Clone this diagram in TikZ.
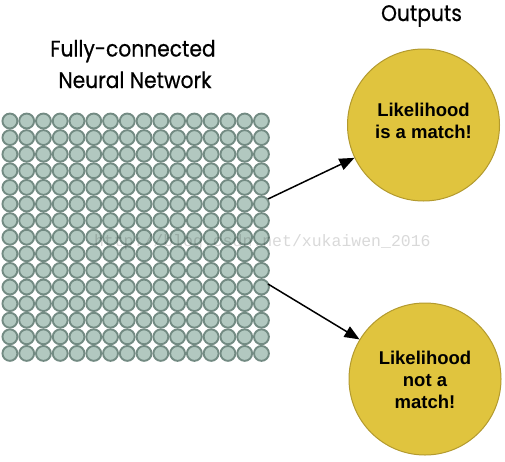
\documentclass[tikz,border=0pt]{standalone}
\usepackage{fontspec}
\setmainfont{Liberation Sans}
\newfontfamily\headfont[FakeBold=0.6,FakeStretch=0.9]{Poppins}
\newfontfamily\wmfont{Liberation Mono}
\usetikzlibrary{arrows.meta}
\definecolor{gridfill}{HTML}{B2C8C0}
\definecolor{gridline}{HTML}{738B83}
\definecolor{outfill}{HTML}{E0C43E}
\definecolor{outline}{HTML}{B39A2E}
\tikzset{
  neuron/.style={circle, fill=gridfill, draw=gridline, line width=1.9pt, minimum size=14.9pt, inner sep=0pt},
  outcircle/.style={circle, fill=outfill, draw=outline, line width=1pt, minimum size=152pt, inner sep=0pt},
  headtext/.style={font=\headfont\fontsize{22.5}{26}\selectfont, anchor=base, inner sep=0pt},
  intext/.style={font=\bfseries\fontsize{18.5}{22}\selectfont, align=center, inner sep=0pt},
  arrowline/.style={line width=1.5pt, -{Triangle[length=15pt,width=12pt]}},
}
\begin{document}
\begin{tikzpicture}[x=1pt,y=-1pt]
\useasboundingbox (0,0) rectangle (505,461);
% grid of neurons
\foreach \i in {1,...,16}{
  \foreach \j in {1,...,15}{
    \node[neuron] (n-\i-\j) at ({9.9+16.77*(\i-1)},{121+16.6*(\j-1)}) {};
  }
}
% watermark
\node[font=\wmfont\fontsize{16.5}{18}\selectfont, text=black, text opacity=0.15, anchor=base west, inner sep=0pt] (wm) at (93.8,246.7) {http://blog.csdn.net/xukaiwen\_2016};
% headings
\node[headtext] (h1) at (133,56.5) {Fully-connected};
\node[headtext] (h2) at (135,88) {Neural Network};
\node[headtext] (h3) at (421.5,21) {Outputs};
% outputs
\node[outcircle] (o1) at (423.5,125) {};
\node[outcircle] (o2) at (425,379) {};
\node[intext] (t1) at (423.5,121) {Likelihood\\is a match!};
\node[intext] (t2) at (425,380) {Likelihood\\not a\\match!};
% arrows
\coordinate (s1) at (268,199);
\coordinate (s2) at (268,284);
\draw[arrowline] (s1) -- (o1);
\draw[arrowline] (s2) -- (o2);
\end{tikzpicture}
\end{document}
